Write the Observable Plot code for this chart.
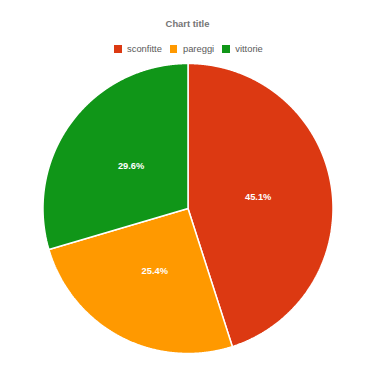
<!DOCTYPE html>
<html>
<head>
<meta charset="utf-8">
<script src="https://cdn.jsdelivr.net/npm/d3@7"></script>
<script src="https://cdn.jsdelivr.net/npm/@observablehq/plot@0.6"></script>
<style>
  html, body { margin: 0; padding: 0; background: #fff; }
  #wrap { position: relative; width: 375px; height: 366px; font-family: "Liberation Sans", Arial, sans-serif; }
  #title { position: absolute; left: 0; width: 375px; top: 18px; text-align: center; font-size: 9.4px; font-weight: bold; color: #757575; line-height: 12px; }
  #legend { position: absolute; left: 114px; top: 43px; display: flex; align-items: center; font-size: 9.4px; color: #5a5a5a; line-height: 12px; }
  .item { display: flex; align-items: center; margin-right: 8px; }
  .sw { width: 7.5px; height: 7.5px; margin-right: 5.5px; }
  #chart { position: absolute; left: 0; top: 0; }
</style>
</head>
<body>
<div id="wrap">
  <div id="chart"></div>
  <div id="title"></div>
  <div id="legend"></div>
</div>
<script>
const title = "Chart title";
const categories = ["sconfitte", "pareggi", "vittorie"];
const values = [45.1, 25.4, 29.6];
const colors = ["#DC3912", "#FF9900", "#109618"];

const data = categories.map((c, i) => ({category: c, value: values[i]}));
const total = d3.sum(values);
const arcs = d3.pie().sort(null).value(d => d.value)(data);

// polygon outline of each slice in unit coordinates
const outline = [];
for (const a of arcs) {
  const key = a.data.category;
  outline.push({key, x: 0, y: 0});
  const n = Math.max(2, Math.ceil((a.endAngle - a.startAngle) / (Math.PI / 720)));
  for (let k = 0; k <= n; k++) {
    const t = a.startAngle + (a.endAngle - a.startAngle) * k / n;
    outline.push({key, x: Math.sin(t), y: Math.cos(t)});
  }
  outline.push({key, x: 0, y: 0});
}
const labels = arcs.map(a => {
  const m = (a.startAngle + a.endAngle) / 2;
  return {x: 0.49 * Math.sin(m), y: 0.49 * Math.cos(m), text: (a.data.value / total * 100).toFixed(1) + "%"};
});

const chart = Plot.plot({
  width: 375,
  height: 366,
  marginLeft: 42.5,
  marginRight: 42.5,
  marginTop: 63,
  marginBottom: 13,
  x: {domain: [-1, 1], axis: null},
  y: {domain: [-1, 1], axis: null},
  color: {domain: categories, range: colors},
  style: {fontFamily: "'Liberation Sans', Arial, sans-serif", background: "white"},
  marks: [
    Plot.line(outline, {x: "x", y: "y", z: "key", fill: "key", stroke: "white", strokeWidth: 1.5, strokeLinejoin: "miter", curve: "linear"}),
    Plot.text(labels, {x: "x", y: "y", text: "text", fill: "white", fontSize: 9.3, fontWeight: "bold"})
  ]
});
document.getElementById("chart").appendChild(chart);
document.getElementById("title").textContent = title;
const legend = document.getElementById("legend");
categories.forEach((c, i) => {
  const it = document.createElement("div");
  it.className = "item";
  const sw = document.createElement("div");
  sw.className = "sw";
  sw.style.background = colors[i];
  const tx = document.createElement("span");
  tx.textContent = c;
  it.appendChild(sw); it.appendChild(tx);
  legend.appendChild(it);
});
</script>
</body>
</html>
